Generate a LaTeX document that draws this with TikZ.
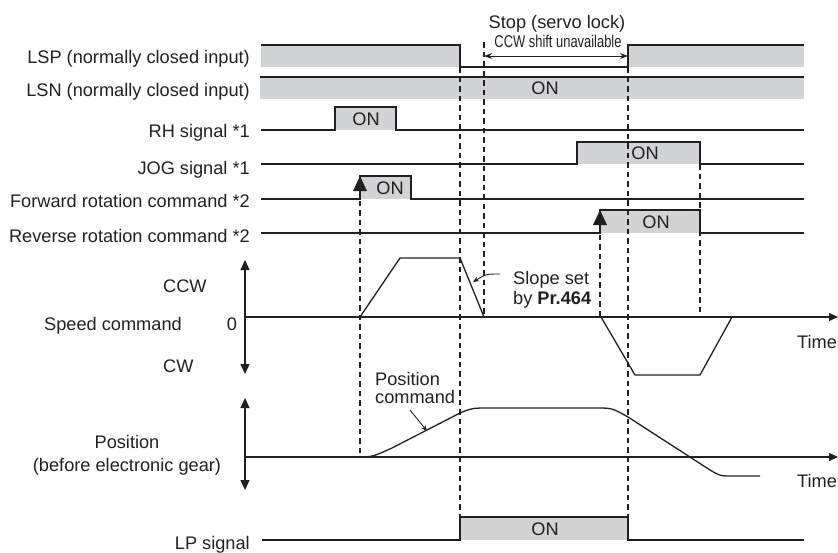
\documentclass[tikz,border=0pt]{standalone}
\usepackage{graphicx}
\usepackage{fontspec}
\setmainfont{Liberation Sans}
\usetikzlibrary{arrows.meta,calc}

\definecolor{ongray}{RGB}{210,211,213}
\definecolor{ink}{RGB}{35,31,32}

\begin{document}
\begin{tikzpicture}[x=1pt, y=-1pt, font=\fontsize{18.2}{20}\selectfont, text=ink,
  wave/.style={draw=ink, line width=1.3pt},
  hi/.style={fill=ongray},
  guide/.style={draw=ink, line width=1.1pt, dash pattern=on 5.5pt off 4pt},
  axis/.style={draw=ink, line width=1.3pt, -{Triangle[length=9pt,width=8pt]}},
  lbl/.style={anchor=base east, inner sep=0pt},
  txt/.style={inner sep=0pt},
  note/.style={-{Stealth[length=6pt,width=5pt]}, draw=ink, line width=0.9pt}]
\useasboundingbox (0,0) rectangle (838,552);

% signal names
\node[lbl] (lsp) at (250,63) {LSP (normally closed input)};
\node[lbl] (lsn) at (250,96) {LSN (normally closed input)};
\node[lbl] (rh)  at (250,137) {RH signal *1};
\node[lbl] (jog) at (250,174) {JOG signal *1};
\node[lbl] (fwd) at (250,207) {Forward rotation command *2};
\node[lbl] (rev) at (250,242) {Reverse rotation command *2};
\node[lbl] (lp)  at (250,549) {LP signal};

% LSP / LSN
\fill[hi] (261,45) rectangle (460,67);
\fill[hi] (628,45) rectangle (804,67);
\draw[wave] (261,45) -- (460,45) -- (460,67) -- (628,67) -- (628,45) -- (804,45);
\fill[hi] (260,77) rectangle (804,99);
\draw[wave] (260,77) -- (804,77);
\node[txt] (lsnon) at (545,88) {ON};

% RH, JOG
\fill[hi] (335,107) rectangle (396,130);
\draw[wave] (261,130) -- (335,130) -- (335,107) -- (396,107) -- (396,130) -- (804,130);
\node[txt] (rhon) at (366,119) {ON};
\fill[hi] (577,142) rectangle (700,164);
\draw[wave] (261,164) -- (577,164) -- (577,142) -- (700,142) -- (700,164) -- (804,164);

% forward / reverse
\fill[hi] (360,176) rectangle (411,199);
\draw[wave] (261,199) -- (360,199) -- (360,176) -- (411,176) -- (411,199) -- (804,199);
\fill[ink] (360,176) -- (353,191) -- (367,191) -- cycle;
\node[txt] (fwdon) at (390,188) {ON};
\fill[hi] (600,210) rectangle (700,233);
\draw[wave] (261,233) -- (600,233) -- (600,210) -- (700,210) -- (700,233) -- (804,233);
\fill[ink] (600,210) -- (593,225) -- (607,225) -- cycle;
\node[txt] (revon) at (656,222) {ON};

% dashed guides
\draw[guide] (460,67) -- (460,517);
\draw[guide] (484,42) -- (484,317);
\draw[guide] (628,67) -- (628,517);
\draw[guide] (360,191) -- (360,457);
\draw[guide] (600,225) -- (600,317);
\draw[guide] (700,164) -- (700,317);
\node[txt] (jogon) at (645,153) {ON};

% stop interval
\node[txt, anchor=base] (stop) at (557,28) {Stop (servo lock)};
\node[txt, anchor=base, font=\fontsize{17}{18}\selectfont] (shift) at (558,47) {\scalebox{0.76}[1]{CCW shift unavailable}};
\coordinate (stopl) at (484,56);
\coordinate (stopr) at (628,56);
\draw[{Stealth[length=8pt,width=6pt]}-{Stealth[length=8pt,width=6pt]}, draw=ink, line width=1pt] (stopl) -- (stopr);

% speed command
\draw[axis, {Triangle[length=10pt,width=9pt]}-{Triangle[length=10pt,width=9pt]}] (245,260) -- (245,374);
\draw[axis] (245,317) -- (838,317);
\node[txt, anchor=base west] (ccw) at (163,292) {CCW};
\node[txt, anchor=base west] (cw) at (163,372) {CW};
\node[txt, anchor=base] (spd) at (113,330) {Speed command};
\node[txt, anchor=base] (zero) at (232,330) {0};
\node[txt, anchor=base west] (time1) at (797,348) {Time};
\draw[wave] (360,317) -- (400,258) -- (460,258) -- (484,317);
\draw[wave] (601,317) -- (635,375) -- (700,375) -- (732,317);
\node[txt, anchor=west, align=left] (slope) at (513,290) {Slope set\\by \textbf{Pr.464}};
\coordinate (slopetip) at (473,282);
\draw[note] (slope.west |- 0,274) ++(-13,0) .. controls (486,274) .. (slopetip);

% position
\draw[axis, {Triangle[length=10pt,width=9pt]}-{Triangle[length=10pt,width=9pt]}] (245,398) -- (245,490);
\draw[axis] (245,457) -- (838,457);
\node[txt, align=center, font=\fontsize{18.2}{23}\selectfont] (pos) at (127,455) {Position\\(before electronic gear)};
\node[txt, anchor=base west] (time2) at (797,487) {Time};
\draw[wave] (357,457) .. controls (372,457) .. (392,448) -- (460,413)
  .. controls (472,408) .. (490,408) -- (596,408) .. controls (612,408) .. (628,417)
  -- (710,470) .. controls (720,476) .. (733,476) -- (760,476);
\node[txt, anchor=west, align=left, font=\fontsize{18.2}{18}\selectfont] (poscmd) at (375,388) {Position\\command};
\coordinate (postip) at (427,431);
\draw[note] (410,410) -- (postip);

% LP signal
\fill[hi] (460,517) rectangle (628,540);
\draw[wave] (262,540) -- (460,540) -- (460,517) -- (628,517) -- (628,540) -- (804,540);
\node[txt] (lpon) at (545,529) {ON};
\end{tikzpicture}
\end{document}
